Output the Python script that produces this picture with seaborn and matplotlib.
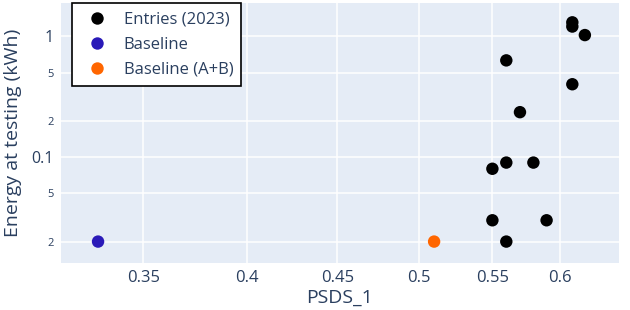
import numpy as np
import pandas as pd
import matplotlib
matplotlib.use('Agg')
import matplotlib.pyplot as plt
import seaborn as sns
from matplotlib.ticker import FixedLocator, NullLocator

# Data
entries_x = [0.55, 0.56, 0.58, 0.55, 0.59, 0.56, 0.61, 0.61, 0.62, 0.56, 0.61, 0.57]
entries_y = [0.08, 0.09, 0.09, 0.03, 0.03, 0.02, 1.3, 1.2, 1.02, 0.63, 0.4, 0.235]
baseline_x = [0.33]
baseline_y = [0.02]
baseline_ab_x = [0.51]
baseline_ab_y = [0.02]

groups = ['Entries (2023)', 'Baseline', 'Baseline (A+B)']
colors = ['#000000', '#2a1ab8', '#ff6600']

x_ticks = [0.35, 0.4, 0.45, 0.5, 0.55, 0.6]
x_labels = ['0.35', '0.4', '0.45', '0.5', '0.55', '0.6']
y_ticks = [0.02, 0.05, 0.1, 0.2, 0.5, 1]
y_labels = ['2', '5', '0.1', '2', '5', '1']
y_major = [False, False, True, False, False, True]

df = pd.DataFrame({
    'PSDS_1': entries_x + baseline_x + baseline_ab_x,
    'energy': entries_y + baseline_y + baseline_ab_y,
    'group': [groups[0]] * len(entries_x) + [groups[1]] * len(baseline_x)
             + [groups[2]] * len(baseline_ab_x),
})

sns.set_style('darkgrid', {'axes.facecolor': '#e5ecf6', 'grid.color': 'white'})
plt.rcParams['font.family'] = ['Open Sans', 'DejaVu Sans']
txt = '#2a3f5f'

fig = plt.figure(figsize=(6.3, 3.1), dpi=100)
ax = fig.add_axes([0.0963, 0.1516, 0.8862, 0.8384])

sns.scatterplot(data=df, x='PSDS_1', y='energy', hue='group', hue_order=groups,
                palette=colors, s=80, linewidth=0, ax=ax, legend=True)

ax.set_xscale('log')
ax.set_yscale('log')
ax.set_xlim(0.3144, 0.648)
ax.set_ylim(0.0133, 1.875)

ax.xaxis.set_major_locator(FixedLocator(x_ticks))
ax.xaxis.set_minor_locator(NullLocator())
ax.set_xticklabels(x_labels)
ax.yaxis.set_major_locator(FixedLocator(y_ticks))
ax.yaxis.set_minor_locator(NullLocator())
ax.set_yticklabels(y_labels)

ax.tick_params(axis='both', length=0, colors=txt)
ax.tick_params(axis='x', labelsize=12, pad=5)
ax.tick_params(axis='y', pad=5)
for lab, big in zip(ax.get_yticklabels(), y_major):
    lab.set_fontsize(11.5 if big else 8)

ax.grid(True, color='white', linewidth=1.1)
for sp in ax.spines.values():
    sp.set_visible(False)

ax.set_xlabel('PSDS_1', fontsize=14, color=txt, labelpad=2)
ax.set_ylabel('Energy at testing (kWh)', fontsize=14, color=txt, labelpad=7)

leg = ax.legend(loc='upper left', bbox_to_anchor=(0.02, 1.0), frameon=True,
                fancybox=False, fontsize=12, markerscale=1.0, handletextpad=0.6,
                borderpad=0.5, labelspacing=0.55, borderaxespad=0)
leg.get_frame().set_edgecolor('black')
leg.get_frame().set_linewidth(1.2)
leg.get_frame().set_facecolor('white')
leg.get_frame().set_alpha(1)
for t in leg.get_texts():
    t.set_color(txt)

fig.savefig('out.png', dpi=100)
